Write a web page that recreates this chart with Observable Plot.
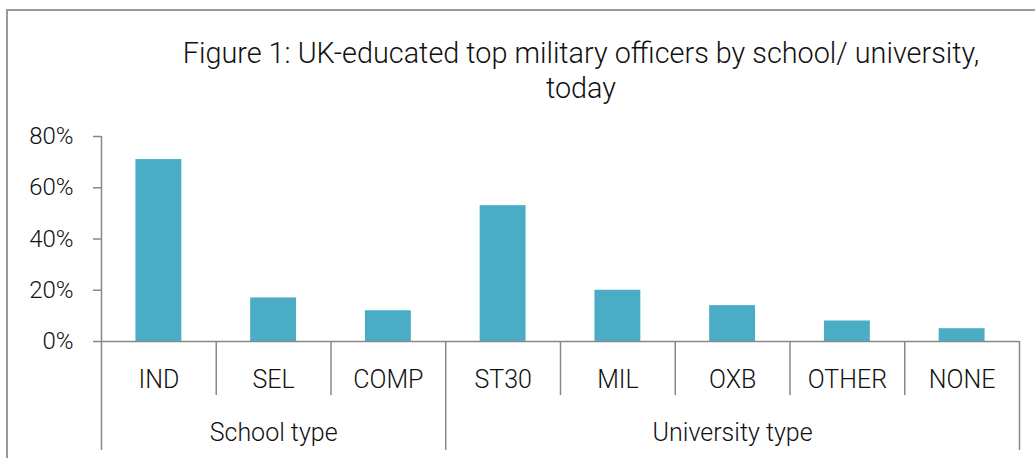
<!DOCTYPE html>
<html>
<head>
<meta charset="utf-8">
<script src="https://cdn.jsdelivr.net/npm/d3@7"></script>
<script src="https://cdn.jsdelivr.net/npm/@observablehq/plot@0.6"></script>
<style>
  body { margin: 0; background: #fff; font-family: Roboto, "DejaVu Sans", sans-serif; }
  #wrap { position: relative; width: 1035px; height: 458px; overflow: hidden; background: #fff; }
  #frame { position: absolute; left: 6px; top: 9px; width: 1200px; height: 700px;
           border-left: 2px solid #9a9a9a; border-top: 2px solid #9a9a9a; }
  #title { position: absolute; left: 127px; top: 36px; width: 908px; text-align: center;
           font-size: 28.8px; line-height: 35px; font-weight: 300; color: #111; }
  #chart { position: absolute; left: 0; top: 120px; }
</style>
</head>
<body>
<div id="wrap">
  <div id="frame"></div>
  <div id="title">Figure 1: UK-educated top military officers by school/ university,<br>today</div>
  <div id="chart"></div>
</div>
<script>
const categories = ["IND", "SEL", "COMP", "ST30", "MIL", "OXB", "OTHER", "NONE"];
const values = [71, 17, 12, 53, 20, 14, 8, 5];
const groups = ["School type", "University type"];
const groupSizes = [3, 5];
const yTicks = [0, 20, 40, 60, 80];

const barPad = 0.3;
const data = categories.map((c, i) => ({cat: c, i, value: values[i]}));
const centers = categories.map((c, i) => i + 0.5);

let acc = 0;
const groupBounds = [0];
const groupCenters = [];
groupSizes.forEach(s => { groupCenters.push(acc + s / 2); acc += s; groupBounds.push(acc); });
const innerBounds = d3.range(1, categories.length).filter(b => !groupBounds.includes(b));

const lineColor = "#888888";
const textColor = "#111111";

const chart = Plot.plot({
  width: 1035,
  height: 338,
  marginTop: 16,
  marginBottom: 117,
  marginLeft: 101,
  marginRight: 16,
  style: {fontFamily: "Roboto, 'DejaVu Sans', sans-serif", fontWeight: 300, background: "transparent"},
  x: {domain: [0, categories.length]},
  y: {domain: [yTicks[0], yTicks[yTicks.length - 1]]},
  marks: [
    Plot.rectY(data, {x1: d => d.i + barPad, x2: d => d.i + 1 - barPad, y: "value", fill: "#4BACC6"}),
    Plot.ruleX([0], {y1: yTicks[0], y2: yTicks[yTicks.length - 1], stroke: lineColor, strokeWidth: 1.5}),
    Plot.ruleY([0], {stroke: lineColor, strokeWidth: 1.5}),
    Plot.axisY({ticks: yTicks, tickFormat: d => d + "%", tickSize: 8, tickPadding: 20, label: null,
                fontSize: 24, stroke: lineColor, strokeWidth: 1.5, strokeOpacity: 1, fill: textColor}),
    Plot.axisX({ticks: innerBounds, tickSize: 54, tickFormat: () => "", label: null, stroke: lineColor, strokeWidth: 1.5, strokeOpacity: 1}),
    Plot.axisX({ticks: groupBounds, tickSize: 109, tickFormat: () => "", label: null, stroke: lineColor, strokeWidth: 1.5, strokeOpacity: 1}),
    Plot.axisX({ticks: centers, tickSize: 0, tickPadding: 29, fontSize: 25, fill: textColor, label: null,
                tickFormat: v => categories[Math.floor(v)]}),
    Plot.axisX({ticks: groupCenters, tickSize: 0, tickPadding: 82, fontSize: 25, fill: textColor, label: null,
                tickFormat: v => groups[groupCenters.indexOf(v)]})
  ]
});
document.getElementById("chart").appendChild(chart);
</script>
</body>
</html>
